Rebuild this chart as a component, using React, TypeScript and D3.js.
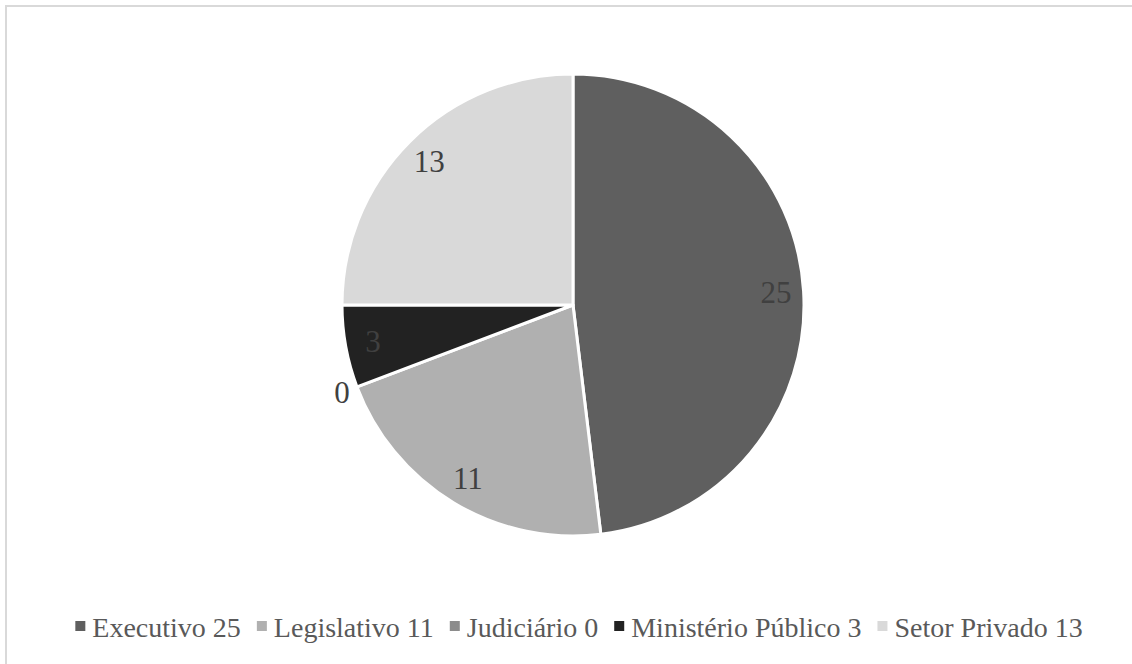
import React, { useEffect, useRef } from "react";
import * as d3 from "d3";

const categories = ["Executivo", "Legislativo", "Judiciário", "Ministério Público", "Setor Privado"];
const values = [25, 11, 0, 3, 13];
const colors = ["#5f5f5f", "#b0b0b0", "#8c8c8c", "#222222", "#d9d9d9"];

const W = 1132;
const H = 664;
const SERIF = "Liberation Serif, DejaVu Serif, serif";

export default function App() {
  const ref = useRef<SVGSVGElement | null>(null);

  useEffect(() => {
    const svg = d3.select(ref.current);
    svg.selectAll("*").remove();

    // chart frame
    svg
      .append("rect")
      .attr("x", 6)
      .attr("y", 6)
      .attr("width", W + 20)
      .attr("height", H + 20)
      .attr("fill", "#fff")
      .attr("stroke", "#d9d9d9")
      .attr("stroke-width", 2);

    const cx = 573;
    const cy = 305;
    const R = 231;

    const data = categories.map((c, i) => ({ name: c, value: values[i], color: colors[i] }));
    const pie = d3
      .pie<any>()
      .value((d) => d.value)
      .sort(null)
      .startAngle(0)
      .endAngle(Math.PI * 2);
    const arcs = pie(data);
    const arc = d3.arc<any>().innerRadius(0).outerRadius(R);

    const g = svg.append("g").attr("transform", `translate(${cx},${cy})`);
    g.selectAll("path.slice")
      .data(arcs.filter((a) => a.value > 0))
      .join("path")
      .attr("class", "slice")
      .attr("d", arc as any)
      .attr("fill", (d: any) => d.data.color)
      .attr("stroke", "#fff")
      .attr("stroke-width", 3)
      .attr("stroke-linejoin", "round");

    // value labels: inside near the rim, zero slices just outside
    g.selectAll("text.val")
      .data(arcs)
      .join("text")
      .attr("class", "val")
      .each(function (d: any) {
        const mid = (d.startAngle + d.endAngle) / 2;
        const r = d.value > 0 ? R * 0.88 : R * 1.07;
        d3.select(this)
          .attr("x", Math.sin(mid) * r)
          .attr("y", -Math.cos(mid) * r);
      })
      .attr("text-anchor", "middle")
      .attr("dominant-baseline", "central")
      .style("font-family", SERIF)
      .style("font-size", "31px")
      .attr("fill", "#404040")
      .text((d: any) => String(d.value));

    // legend
    const legend = svg.append("g");
    const markerSize = 10;
    const gapMarkerText = 7;
    const gapItems = 16;
    let x = 0;
    data.forEach((d) => {
      const item = legend.append("g").attr("transform", `translate(${x},0)`);
      item
        .append("rect")
        .attr("x", 0)
        .attr("y", -markerSize / 2 - 1)
        .attr("width", markerSize)
        .attr("height", markerSize)
        .attr("fill", d.color);
      const t = item
        .append("text")
        .attr("x", markerSize + gapMarkerText)
        .attr("y", 0)
        .attr("dominant-baseline", "central")
        .style("font-family", SERIF)
        .style("font-size", "28px")
        .attr("fill", "#595959")
        .text(`${d.name} ${d.value}`);
      const w = (t.node() as SVGTextElement).getComputedTextLength();
      x += markerSize + gapMarkerText + w + gapItems;
    });
    const totalW = x - gapItems;
    legend.attr("transform", `translate(${(W + 6) / 2 + 10 - totalW / 2},627)`);
  }, []);

  return (
    <div style={{ position: "fixed", left: 0, top: 0, width: W, height: H, background: "#fff" }}>
      <svg ref={ref} width={W} height={H} style={{ display: "block" }} />
    </div>
  );
}
